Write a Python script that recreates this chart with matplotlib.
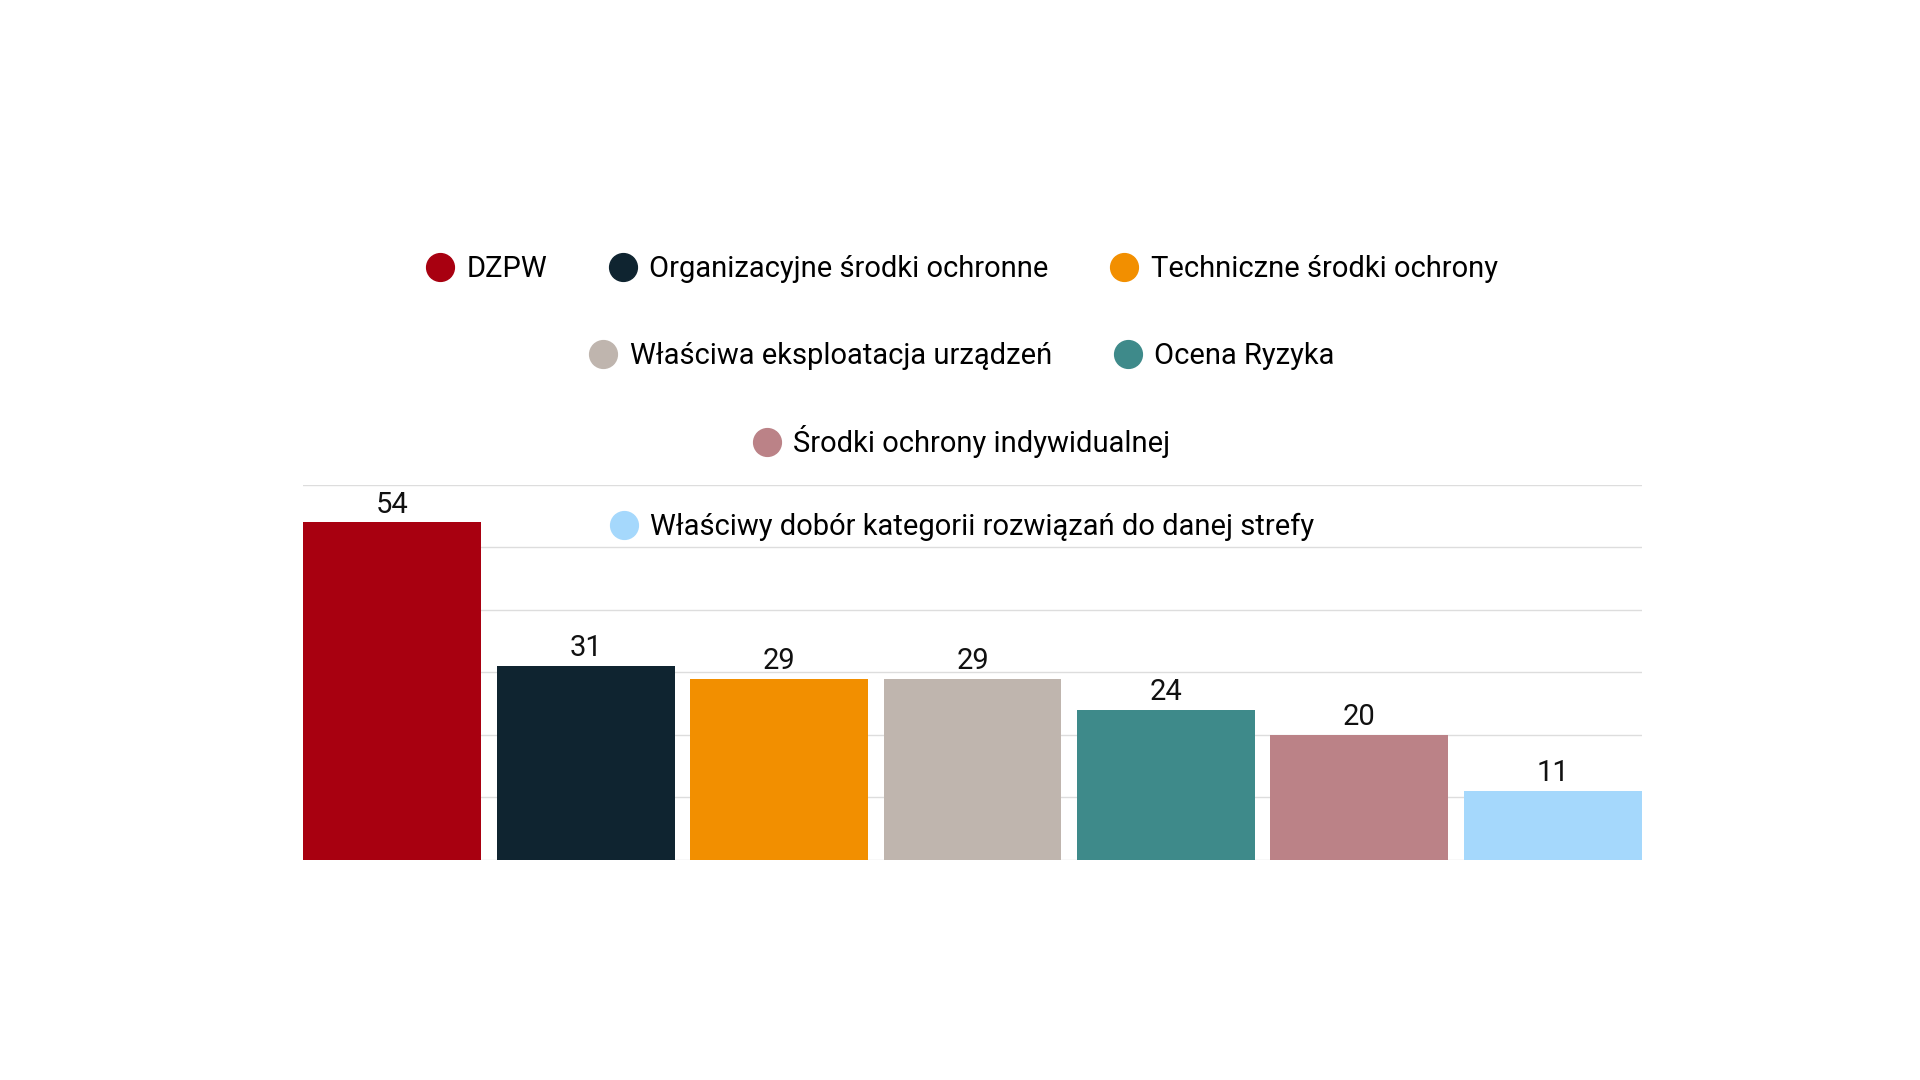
import matplotlib.pyplot as plt
from matplotlib.lines import Line2D

categories = ['DZPW', 'Organizacyjne środki ochronne', 'Techniczne środki ochrony',
              'Właściwa eksploatacja urządzeń', 'Ocena Ryzyka',
              'Środki ochrony indywidualnej',
              'Właściwy dobór kategorii rozwiązań do danej strefy']
values = [54, 31, 29, 29, 24, 20, 11]
colors = ['#a80010', '#0f2430', '#f28f00', '#bfb5ae', '#3e8a8a', '#bb8287', '#a5d8fc']
legend_rows = [[0, 1, 2], [3, 4], [5], [6]]

plt.rcParams['font.family'] = 'Roboto'
fig = plt.figure(figsize=(19.2, 10.8), dpi=100)
ax = fig.add_axes([0.158, 0.204, 0.697, 0.347])

x = list(range(len(values)))
ax.bar(x, values, width=0.92, color=colors)
for xi, v in zip(x, values):
    ax.text(xi, v + 0.6, str(v), ha='center', va='bottom', fontsize=21, color='#111111')

ax.set_xlim(-0.46, len(values) - 1 + 0.46)
ax.set_ylim(0, 60)
ax.set_yticks(range(0, 61, 10))
ax.yaxis.grid(True, color='#dddddd', linewidth=1)
ax.set_axisbelow(True)
ax.set_xticks([])
ax.tick_params(left=False, labelleft=False)
for s in ax.spines.values():
    s.set_visible(False)

row_y = [0.751, 0.670, 0.591, 0.512]
for row, yy in zip(legend_rows, row_y):
    handles = [Line2D([], [], marker='o', linestyle='', markersize=20,
                      markerfacecolor=colors[i], markeredgecolor=colors[i]) for i in row]
    fig.legend(handles, [categories[i] for i in row], loc='center',
               bbox_to_anchor=(0.5, yy), ncol=len(row), frameon=False,
               fontsize=21, handletextpad=0.3, columnspacing=2.0, handlelength=1.2)

fig.savefig('out.png', dpi=100, facecolor='white')
